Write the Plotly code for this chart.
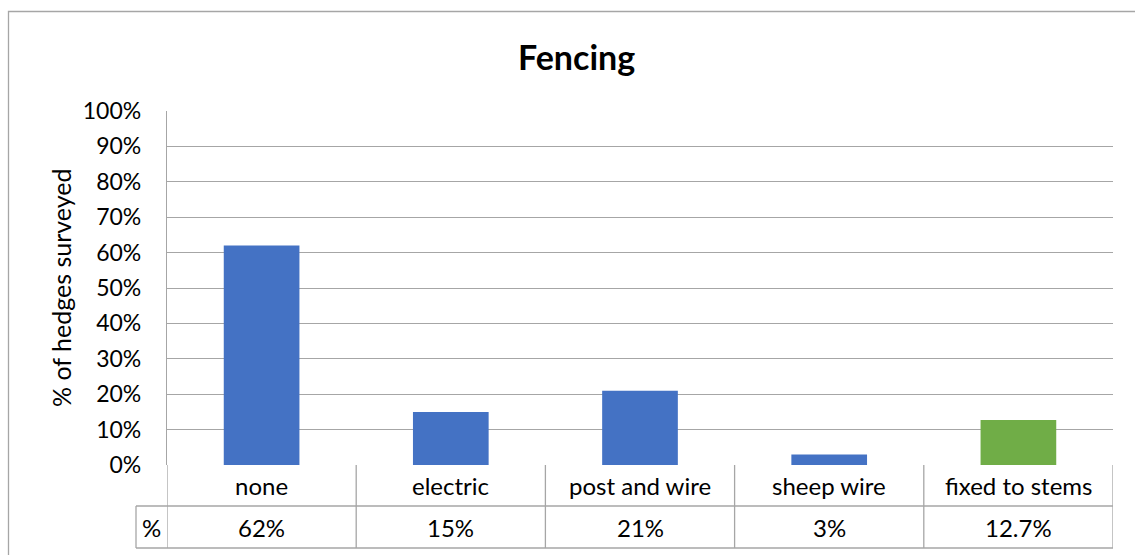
import plotly.graph_objects as go

# Survey results: share of hedges by fencing type
categories = ["none", "electric", "post and wire", "sheep wire", "fixed to stems"]
values = [62, 15, 21, 3, 12.7]
value_labels = ["62%", "15%", "21%", "3%", "12.7%"]
bar_colors = ["#4472C4", "#4472C4", "#4472C4", "#4472C4", "#70AD47"]
y_ticks = [0, 10, 20, 30, 40, 50, 60, 70, 80, 90, 100]
y_tick_labels = [f"{t}%" for t in y_ticks]
series_name = "%"

W, H = 1135, 555
L, R, T, B = 167, 1113, 111, 465   # plot area in pixels
GRID = "#A6A6A6"
FONT = "Lato, 'Open Sans', sans-serif"
TXT = 24


def px(x):
    return (x - L) / (R - L)


def py(y):
    return (B - y) / (B - T)


fig = go.Figure(
    go.Bar(
        x=list(range(len(categories))),
        y=values,
        marker=dict(color=bar_colors, line=dict(width=0)),
        width=0.4,
        hoverinfo="skip",
    )
)

shapes = []
annotations = []

# Outer chart border
shapes.append(dict(type="rect", xref="paper", yref="paper",
                   x0=px(8.5), x1=px(1140), y0=py(11.5), y1=py(560),
                   line=dict(color=GRID, width=1.3), layer="below"))

# Data table underneath the plot
row1_bottom, row2_bottom, label_left = 506, 548, 136
line = dict(color=GRID, width=1.3)
# horizontal rules
shapes.append(dict(type="line", xref="paper", yref="paper",
                   x0=px(label_left), x1=px(R), y0=py(row1_bottom), y1=py(row1_bottom), line=line))
shapes.append(dict(type="line", xref="paper", yref="paper",
                   x0=px(label_left), x1=px(R), y0=py(row2_bottom), y1=py(row2_bottom), line=line))
# vertical rules between categories
for i in range(len(categories) + 1):
    shapes.append(dict(type="line", xref="x", yref="paper",
                       x0=i - 0.5, x1=i - 0.5, y0=py(B), y1=py(row2_bottom), line=line))
# series-name cell on the left
shapes.append(dict(type="line", xref="paper", yref="paper",
                   x0=px(label_left), x1=px(label_left), y0=py(row1_bottom), y1=py(row2_bottom), line=line))

tfont = dict(family=FONT, size=TXT, color="#000000")
for i, (cat, lab) in enumerate(zip(categories, value_labels)):
    annotations.append(dict(x=i, y=py((B + row1_bottom) / 2), xref="x", yref="paper",
                            text=cat, showarrow=False, font=tfont,
                            xanchor="center", yanchor="middle"))
    annotations.append(dict(x=i, y=py((row1_bottom + row2_bottom) / 2), xref="x", yref="paper",
                            text=lab, showarrow=False, font=tfont,
                            xanchor="center", yanchor="middle"))
annotations.append(dict(x=px((label_left + L) / 2), y=py((row1_bottom + row2_bottom) / 2),
                        xref="paper", yref="paper", text=series_name, showarrow=False,
                        font=tfont, xanchor="center", yanchor="middle"))

# Title and axis title
annotations.append(dict(x=px(576), y=py(57), xref="paper", yref="paper",
                        text="<b>Fencing</b>", showarrow=False,
                        font=dict(family=FONT, size=34, color="#000000"),
                        xanchor="center", yanchor="middle"))
annotations.append(dict(x=px(61), y=py(288), xref="paper", yref="paper",
                        text="% of hedges surveyed", showarrow=False, textangle=-90,
                        font=dict(family=FONT, size=TXT + 1, color="#000000"),
                        xanchor="center", yanchor="middle"))

fig.update_layout(
    width=W, height=H,
    margin=dict(l=L, r=W - R, t=T, b=H - B, pad=0),
    paper_bgcolor="white", plot_bgcolor="white",
    showlegend=False,
    shapes=shapes,
    annotations=annotations,
    xaxis=dict(range=[-0.5, len(categories) - 0.5], showticklabels=False,
               showgrid=False, zeroline=False, showline=False, fixedrange=True),
    yaxis=dict(range=[0, 100], tickvals=y_ticks, ticktext=y_tick_labels,
               showgrid=True, gridcolor=GRID, gridwidth=1.3,
               zeroline=False, showline=True, linecolor=GRID, linewidth=1.3,
               ticks="", ticklabelstandoff=20,
               tickfont=dict(family=FONT, size=23, color="#000000"), fixedrange=True),
    bargap=0.6,
)

fig.write_html("out.html", config={"displayModeBar": False})
